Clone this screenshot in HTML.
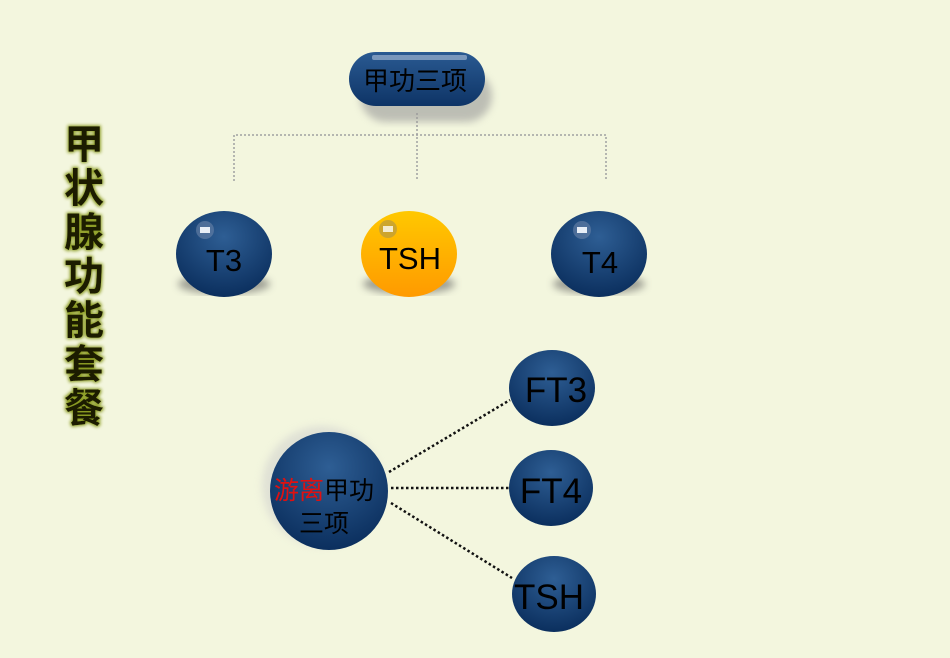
<!DOCTYPE html>
<html><head><meta charset="utf-8"><style>
body{margin:0;background:#f3f6de;}
svg{display:block;}
</style></head><body>
<svg width="950" height="658" viewBox="0 0 950 658" xmlns="http://www.w3.org/2000/svg">
<defs>
<radialGradient id="blue" cx="50%" cy="30%" r="70%">
<stop offset="0" stop-color="#2e5e94"/><stop offset="1" stop-color="#0b2f5e"/></radialGradient>
<linearGradient id="pill" x1="0" y1="0" x2="0" y2="1">
<stop offset="0" stop-color="#2a5a92"/><stop offset="1" stop-color="#0e3466"/></linearGradient>
<linearGradient id="orange" x1="0" y1="0" x2="0" y2="1">
<stop offset="0" stop-color="#ffc800"/><stop offset="1" stop-color="#ff9a00"/></linearGradient>
<filter id="blur"><feGaussianBlur stdDeviation="4"/></filter>
<filter id="glow"><feMorphology operator="dilate" radius="1.2" in="SourceAlpha" result="d"/><feGaussianBlur in="d" stdDeviation="1.5" result="b"/><feFlood flood-color="#8a9a20"/><feComposite in2="b" operator="in" result="g"/><feMerge><feMergeNode in="g"/><feMergeNode in="SourceGraphic"/></feMerge></filter>
</defs>
<rect width="950" height="658" fill="#f3f6de"/>
<!-- title -->
<g font-family="'Liberation Sans','Noto Sans CJK SC',sans-serif" font-size="40" font-weight="bold" fill="#1f1f02" text-anchor="middle" filter="url(#glow)">
<text x="84" y="158">甲</text><text x="84" y="202">状</text><text x="84" y="246">腺</text><text x="84" y="290">功</text><text x="84" y="334">能</text><text x="84" y="378">套</text><text x="84" y="422">餐</text>
</g>
<!-- top connectors -->
<g stroke="#a0a0a0" stroke-width="1.5" stroke-dasharray="2 2" fill="none">
<path d="M417 113V181M234 181V135H606V181"/>
</g>
<!-- top pill -->
<rect x="360" y="70" width="132" height="52" rx="26" fill="#999" opacity="0.6" filter="url(#blur)"/>
<rect x="349" y="52" width="136" height="54" rx="27" fill="url(#pill)"/>
<rect x="372" y="55" width="95" height="5" rx="2" fill="#8fa8c8" opacity="0.8"/>
<text x="415" y="90" font-family="'Liberation Sans','Noto Sans CJK SC',sans-serif" font-size="26" fill="#000" text-anchor="middle">甲功三项</text>
<!-- ellipses -->
<g fill="#555" opacity="0.55" filter="url(#blur)">
<ellipse cx="224" cy="284" rx="46" ry="10"/><ellipse cx="409" cy="284" rx="46" ry="10"/><ellipse cx="599" cy="284" rx="46" ry="10"/>
</g>
<ellipse cx="224" cy="254" rx="48" ry="43" fill="url(#blue)"/>
<ellipse cx="409" cy="254" rx="48" ry="43" fill="url(#orange)"/>
<ellipse cx="599" cy="254" rx="48" ry="43" fill="url(#blue)"/>
<g>
<circle cx="205" cy="230" r="9" fill="#6a84a8" opacity="0.6"/><rect x="200" y="227" width="10" height="6" fill="#e8eef6"/>
<circle cx="388" cy="229" r="9" fill="#b89a40" opacity="0.7"/><rect x="383" y="226" width="10" height="6" fill="#f4ecd0"/>
<circle cx="582" cy="230" r="9" fill="#6a84a8" opacity="0.6"/><rect x="577" y="227" width="10" height="6" fill="#e8eef6"/>
</g>
<g font-family="'Liberation Sans',sans-serif" font-size="31" fill="#000" text-anchor="middle">
<text x="224" y="271">T3</text><text x="410" y="269">TSH</text><text x="600" y="273">T4</text>
</g>
<!-- bottom lines -->
<g stroke="#111" stroke-width="2.5" stroke-dasharray="2.5 2.5">
<line x1="389" y1="472" x2="510" y2="400"/>
<line x1="391" y1="488" x2="509" y2="488"/>
<line x1="391" y1="503" x2="512" y2="578"/>
</g>
<circle cx="322" cy="486" r="60" fill="#ccc" opacity="0.5" filter="url(#blur)"/>
<circle cx="329" cy="491" r="59" fill="url(#blue)"/>
<ellipse cx="552" cy="388" rx="43" ry="38" fill="url(#blue)"/>
<ellipse cx="551" cy="488" rx="42" ry="38" fill="url(#blue)"/>
<ellipse cx="554" cy="594" rx="42" ry="38" fill="url(#blue)"/>
<g font-family="'Liberation Sans','Noto Sans CJK SC',sans-serif" font-size="25" text-anchor="middle">
<text x="324" y="499"><tspan fill="#e01010">游离</tspan><tspan fill="#000">甲功</tspan></text>
<text x="324" y="532" fill="#000">三项</text>
</g>
<g font-family="'Liberation Sans',sans-serif" font-size="35" fill="#000" text-anchor="middle">
<text x="556" y="402">FT3</text><text x="551" y="503">FT4</text><text x="549" y="609">TSH</text>
</g>
</svg>
</body></html>
